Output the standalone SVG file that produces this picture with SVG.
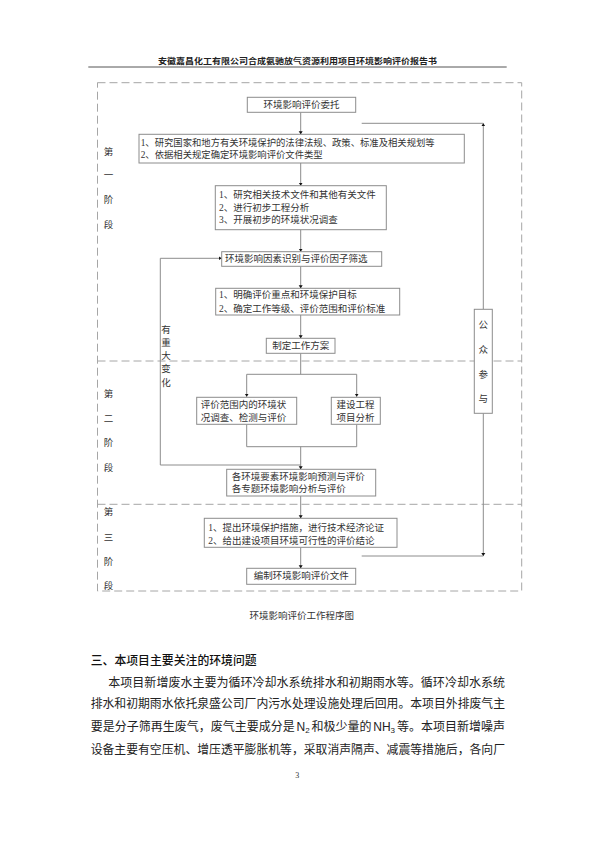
<svg xmlns="http://www.w3.org/2000/svg" width="595" height="841" viewBox="0 0 595 841">
<defs>
<style>
.bg{fill:#fff}
.box{fill:#fff;stroke:#8c8c8c;stroke-width:1}
.ln{fill:none;stroke:#8c8c8c;stroke-width:1}
.ar{fill:none;stroke:#8c8c8c;stroke-width:1;marker-end:url(#ah)}
.dash{fill:none;stroke:#a6a6a6;stroke-width:1;stroke-dasharray:8,4}
.t{font-family:"Liberation Serif","Noto Sans CJK SC",serif;font-size:9.5px;fill:#333;dominant-baseline:central}
.tc{text-anchor:middle}
.hd{font-family:"Noto Sans CJK SC",sans-serif;font-size:8px;font-weight:bold;fill:#222;dominant-baseline:central}
.h2{font-family:"Noto Sans CJK SC",sans-serif;font-size:12px;font-weight:500;fill:#111;dominant-baseline:central}
.p{font-family:"Liberation Sans","Noto Sans CJK SC",sans-serif;font-size:12px;fill:#222;dominant-baseline:central}
.sub{font-family:"Liberation Sans",sans-serif;font-size:8px;fill:#222}
</style>
<marker id="ah" viewBox="0 0 6 10" refX="6" refY="5" markerWidth="3" markerHeight="5" markerUnits="userSpaceOnUse" orient="auto">
<path d="M0,1 L6,5 L0,9 Z" fill="#111"/>
</marker>
</defs>
<rect class="bg" x="0" y="0" width="595" height="841"/>

<g id="header">
<text class="hd tc" x="297.5" y="60" textLength="279" lengthAdjust="spacingAndGlyphs">安徽嘉昌化工有限公司合成氨驰放气资源利用项目环境影响评价报告书</text>
<line x1="88.3" y1="67" x2="506.7" y2="67" stroke="#555" stroke-width="1"/>
</g>

<g id="stages">
<rect class="dash" x="97.5" y="82.7" width="424.2" height="508.3"/>
<line class="dash" x1="97.5" y1="361" x2="521.7" y2="361"/>
<line class="dash" x1="97.5" y1="504.3" x2="521.7" y2="504.3"/>
<g class="t tc">
<text x="108.5" y="151.7">第</text><text x="108.5" y="175">一</text><text x="108.5" y="200">阶</text><text x="108.5" y="225">段</text>
<text x="108.5" y="394">第</text><text x="108.5" y="419.3">二</text><text x="108.5" y="443.3">阶</text><text x="108.5" y="468.3">段</text>
<text x="108.5" y="511.7">第</text><text x="108.5" y="537.7">三</text><text x="108.5" y="561.7">阶</text><text x="108.5" y="585.7">段</text>
</g>
</g>

<g id="connectors">
<line class="ar" x1="300.7" y1="112.3" x2="300.7" y2="134.3"/>
<line class="ar" x1="300.7" y1="163" x2="300.7" y2="185.7"/>
<line class="ar" x1="300.7" y1="229.7" x2="300.7" y2="251.7"/>
<line class="ar" x1="300.7" y1="266.3" x2="300.7" y2="288.3"/>
<line class="ar" x1="300.7" y1="315" x2="300.7" y2="338.3"/>
<polyline class="ln" points="300.7,353.3 300.7,374.3"/>
<polyline class="ln" points="246.7,374.3 356.7,374.3"/>
<line class="ar" x1="246.7" y1="374.3" x2="246.7" y2="396.7"/>
<line class="ar" x1="356.7" y1="374.3" x2="356.7" y2="396.7"/>
<polyline class="ln" points="246.7,424.3 246.7,446.7 356.7,446.7 356.7,424.3"/>
<line class="ar" x1="300.7" y1="446.7" x2="300.7" y2="469.3"/>
<polyline class="ar" points="300.7,465 160.3,465 160.3,258.3 221.7,258.3"/>
<line class="ar" x1="300.7" y1="496" x2="300.7" y2="518.3"/>
<line class="ar" x1="300.7" y1="547.3" x2="300.7" y2="568.3"/>
<line class="ar" x1="483.3" y1="309.3" x2="483.3" y2="123.3"/>
<line class="ln" x1="361.7" y1="123.3" x2="483.3" y2="123.3"/>
<line class="ar" x1="483.3" y1="413.3" x2="483.3" y2="556"/>
<line class="ln" x1="361.7" y1="556" x2="483.3" y2="556"/>
<g class="t tc">
<text x="166" y="330">有</text><text x="166" y="343">重</text><text x="166" y="356">大</text><text x="166" y="369.3">变</text><text x="166" y="382.7">化</text>
</g>
</g>

<g id="n1"><rect class="box" x="247.3" y="97.3" width="108.4" height="15"/><text class="t tc" x="301.5" y="104.8">环境影响评价委托</text></g>
<g id="n2"><rect class="box" x="139" y="134.3" width="325.3" height="28.7"/>
<text class="t" x="140.7" y="142.7" textLength="294" lengthAdjust="spacingAndGlyphs">1、研究国家和地方有关环境保护的法律法规、政策、标准及相关规划等</text>
<text class="t" x="140.7" y="155" textLength="182" lengthAdjust="spacingAndGlyphs">2、依据相关规定确定环境影响评价文件类型</text></g>
<g id="n3"><rect class="box" x="215.3" y="185.7" width="171" height="44"/>
<text class="t" x="219" y="195">1、研究相关技术文件和其他有关文件</text>
<text class="t" x="219" y="207.7">2、进行初步工程分析</text>
<text class="t" x="219" y="220.3">3、开展初步的环境状况调查</text></g>
<g id="n4"><rect class="box" x="221.7" y="251.7" width="160" height="14.6"/><text class="t" x="225" y="258.7">环境影响因素识别与评价因子筛选</text></g>
<g id="n5"><rect class="box" x="215.7" y="288.3" width="184" height="26.7"/>
<text class="t" x="219" y="295">1、明确评价重点和环境保护目标</text>
<text class="t" x="219" y="308.5">2、确定工作等级、评价范围和评价标准</text></g>
<g id="n6"><rect class="box" x="266.3" y="338.3" width="68.7" height="15"/><text class="t tc" x="300.7" y="345.8">制定工作方案</text></g>
<g id="n7"><rect class="box" x="196.7" y="397.3" width="100" height="27"/>
<text class="t" x="200.7" y="405">评价范围内的环境状</text>
<text class="t" x="200.7" y="418.3">况调查、检测与评价</text></g>
<g id="n8"><rect class="box" x="331.3" y="397.3" width="49" height="27"/>
<text class="t" x="336.5" y="405">建设工程</text>
<text class="t" x="336.5" y="418.3">项目分析</text></g>
<g id="n9"><rect class="box" x="226.7" y="469.3" width="149" height="26.7"/>
<text class="t" x="231.7" y="477.3">各环境要素环境影响预测与评价</text>
<text class="t" x="231.7" y="489.3">各专题环境影响分析与评价</text></g>
<g id="n10"><rect class="box" x="204.3" y="518.3" width="192.7" height="29"/>
<text class="t" x="208.3" y="528.3">1、提出环境保护措施，进行技术经济论证</text>
<text class="t" x="208.3" y="540.7">2、给出建设项目环境可行性的评价结论</text></g>
<g id="n11"><rect class="box" x="246.7" y="568.3" width="109" height="16"/><text class="t tc" x="301.2" y="576.3">编制环境影响评价文件</text></g>
<g id="n12"><rect class="box" x="474.3" y="309.3" width="18" height="104"/>
<g class="t tc"><text x="483.3" y="325">公</text><text x="483.3" y="350">众</text><text x="483.3" y="375">参</text><text x="483.3" y="399.3">与</text></g></g>

<g id="caption"><text class="t tc" x="301.7" y="615.7">环境影响评价工作程序图</text></g>

<g id="body">
<text class="h2" x="90.7" y="659" textLength="166" lengthAdjust="spacingAndGlyphs">三、本项目主要关注的环境问题</text>
<text class="p" x="108.3" y="682.7" textLength="396.7" lengthAdjust="spacingAndGlyphs">本项目新增废水主要为循环冷却水系统排水和初期雨水等。循环冷却水系统</text>
<text class="p" x="90.7" y="704.3" textLength="414.3" lengthAdjust="spacingAndGlyphs">排水和初期雨水依托泉盛公司厂内污水处理设施处理后回用。本项目外排废气主</text>
<text class="p" x="90.7" y="727" textLength="204" lengthAdjust="spacingAndGlyphs">要是分子筛再生废气，废气主要成分是</text>
<text class="p" x="296.5" y="727">N</text><text class="sub" x="305.2" y="733">2</text>
<text class="p" x="311.5" y="727" textLength="60" lengthAdjust="spacingAndGlyphs">和极少量的</text>
<text class="p" x="373.3" y="727">NH</text><text class="sub" x="390.6" y="733">3</text>
<text class="p" x="397" y="727" textLength="108" lengthAdjust="spacingAndGlyphs">等。本项目新增噪声</text>
<text class="p" x="90.7" y="750" textLength="414.3" lengthAdjust="spacingAndGlyphs">设备主要有空压机、增压透平膨胀机等，采取消声隔声、减震等措施后，各向厂</text>
<text class="t tc" x="297.3" y="775" style="font-size:8px">3</text>
</g>
</svg>
